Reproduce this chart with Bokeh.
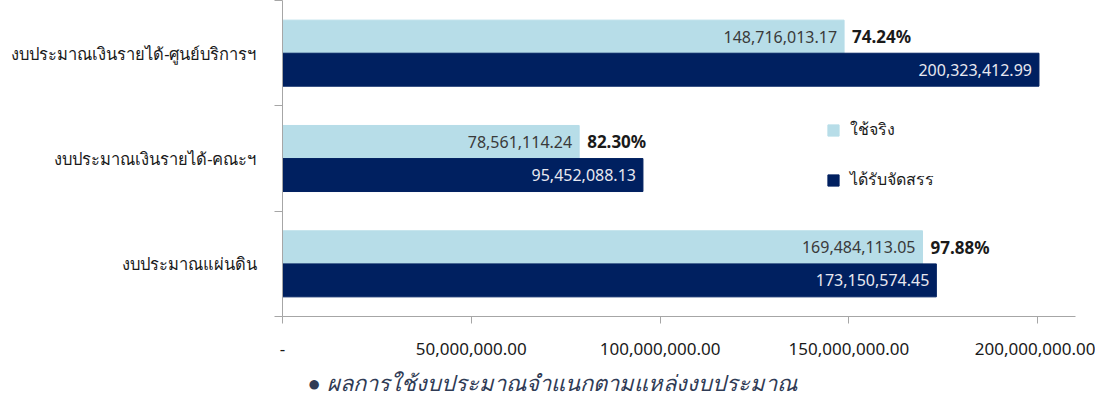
from bokeh.plotting import figure
from bokeh.models import (Range1d, FixedTicker, NumeralTickFormatter, ColumnDataSource,
                          Legend, LegendItem, Title)
from bokeh.core.properties import value
from bokeh.embed import file_html
from bokeh.resources import INLINE

# ---- data (top to bottom as shown) ----
categories = ["งบประมาณเงินรายได้-ศูนย์บริการฯ", "งบประมาณเงินรายได้-คณะฯ", "งบประมาณแผ่นดิน"]
used = [148716013.17, 78561114.24, 169484113.05]
allocated = [200323412.99, 95452088.13, 173150574.45]
series_names = ["ใช้จริง", "ได้รับจัดสรร"]
x_ticks = [0, 50000000, 100000000, 150000000, 200000000]
caption = "ผลการใช้งบประมาณจำแนกตามแหล่งงบประมาณ"

FONT = "Noto Sans"
LIGHT = "#b7dde8"
DARK = "#002060"

n = len(categories)
centers = [n - 0.5 - i for i in range(n)]
pcts = ["{:.2f}%".format(u / a * 100) for u, a in zip(used, allocated)]

src = ColumnDataSource(dict(
    cat=categories,
    yc=centers,
    y_used=[c + 0.157 for c in centers],
    y_alloc=[c - 0.157 for c in centers],
    used=used,
    alloc=allocated,
    used_lbl=["{:,.2f}".format(v) for v in used],
    alloc_lbl=["{:,.2f}".format(v) for v in allocated],
    pct=pcts,
))

p = figure(width=1095, height=410, output_backend="svg", toolbar_location=None,
           x_range=Range1d(0, 210e6), y_range=Range1d(0, 3.0),
           min_border_left=282, min_border_right=20, min_border_top=0, min_border_bottom=94)
p.outline_line_color = None
p.xgrid.grid_line_color = None
p.ygrid.grid_line_color = None
p.background_fill_color = "white"
p.border_fill_color = "white"

r_used = p.hbar(y="y_used", right="used", left=0, height=0.313, color=LIGHT, source=src)
r_alloc = p.hbar(y="y_alloc", right="alloc", left=0, height=0.313, color=DARK, source=src)

p.text(x="used", y="y_used", text="used_lbl", source=src, x_offset=-7,
       text_align="right", text_baseline="middle", text_font=value(FONT),
       text_font_size="16px", text_color="#3a3a3a")
p.text(x="alloc", y="y_alloc", text="alloc_lbl", source=src, x_offset=-7,
       text_align="right", text_baseline="middle", text_font=value(FONT),
       text_font_size="16px", text_color="#e8e8f0")
p.text(x="used", y="y_used", text="pct", source=src, x_offset=8,
       text_align="left", text_baseline="middle", text_font=value(FONT),
       text_font_size="17px", text_font_style="bold", text_color="#1a1a1a")

# x axis
xa = p.xaxis[0]
xa.ticker = FixedTicker(ticks=x_ticks, minor_ticks=[])
xa.formatter = NumeralTickFormatter(format="0,0.00")
xa.major_label_overrides = {0: "-"}
xa.axis_line_color = "#a6a6a6"
xa.major_tick_line_color = "#a6a6a6"
xa.major_tick_in = 0
xa.major_tick_out = 7
xa.major_label_standoff = 19
xa.major_label_text_font = FONT
xa.major_label_text_font_size = "17px"
xa.major_label_text_color = "#1a1a1a"

# y axis
ya = p.yaxis[0]
ya.ticker = FixedTicker(ticks=centers, minor_ticks=list(range(n + 1)))
ya.major_label_overrides = {c: name for c, name in zip(centers, categories)}
ya.axis_line_color = "#a6a6a6"
ya.major_tick_line_color = None
ya.major_tick_in = 0
ya.major_tick_out = 0
ya.minor_tick_line_color = "#a6a6a6"
ya.minor_tick_in = 0
ya.minor_tick_out = 8
ya.major_label_standoff = 18
ya.major_label_text_font = FONT
ya.major_label_text_font_size = "16.5px"
ya.major_label_text_color = "#1a1a1a"

legend = Legend(items=[LegendItem(label=series_names[0], renderers=[r_used]),
                       LegendItem(label=series_names[1], renderers=[r_alloc])],
                location=(544, 124), orientation="vertical",
                glyph_width=14, glyph_height=14, label_height=20, spacing=25,
                padding=0, margin=0, label_standoff=10,
                label_text_font=FONT, label_text_font_size="16px",
                label_text_color="#1a1a1a",
                border_line_color=None, background_fill_alpha=0)
p.add_layout(legend, "center")

# caption under the x axis
p.add_layout(Title(text="● " + caption, align="left", offset=25, standoff=15,
                   text_font=FONT, text_font_size="22px", text_font_style="italic",
                   text_color="#2f3b55"), "below")

open("out.html", "w").write(file_html(p, INLINE))
